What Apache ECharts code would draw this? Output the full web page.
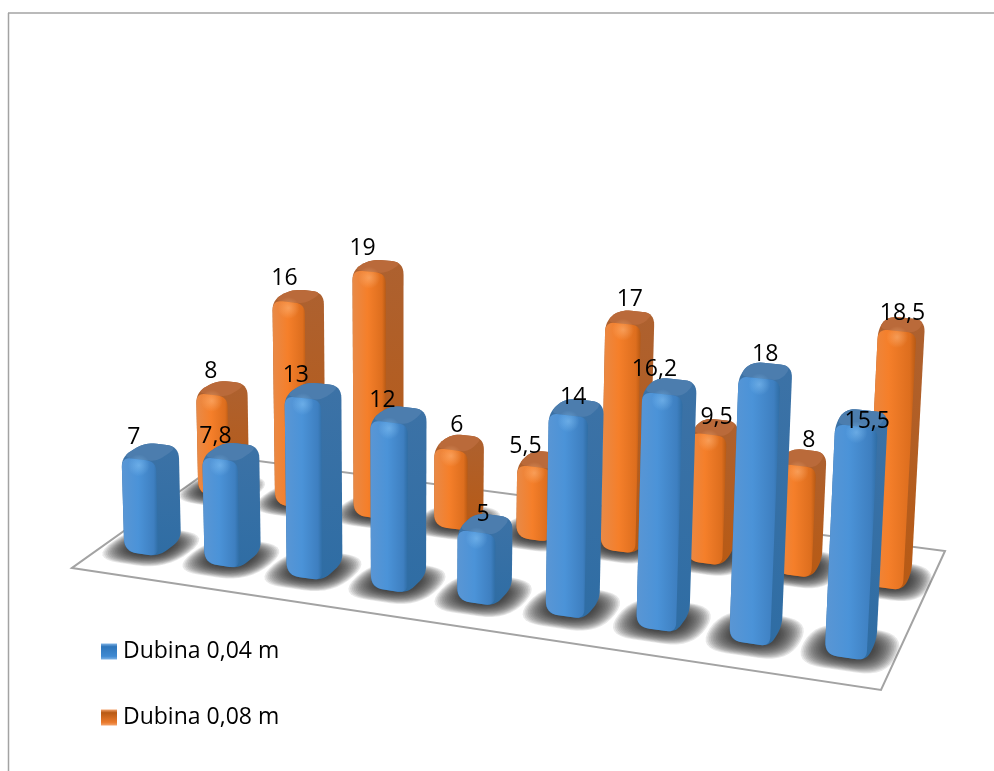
<!DOCTYPE html>
<html><head><meta charset="utf-8">
<style>html,body{margin:0;padding:0;background:#fff}#c{width:994px;height:771px}</style>
<script src="https://cdn.jsdelivr.net/npm/echarts@6/dist/echarts.min.js"></script>
</head><body><div id="c"></div>
<script>
const categories = ['1','2','3','4','5','6','7','8','9'];
const depth004 = [7, 7.8, 13, 12, 5, 14, 16.2, 18, 15.5];
const depth008 = [8, 16, 19, 6, 5.5, 17, 9.5, 8, 18.5];
const seriesNames = ['Dubina 0,04 m', 'Dubina 0,08 m'];

// hand-placed data-label offsets of the original, relative to each bar's top
const labelNudgeX = [[-13,-13,-16,-16,-3,-5,-18,-4,1],[-6,-10,-13,-1,-16,-1,0,3,-3]];
const labelNudgeY = [[4,4,3,4,11,8,1,2,22],[0,-1,-2,1,5,-1,9,1,6]];

// floor plane used as a perspective transform of the hidden cartesian grid
const Q = [[72,568],[881,690],[945,551],[228,457]];
const W = 994, GH = 300, YMAX = 20;
const H = (function(){
  const [p0,p1,p2,p3]=Q;
  const dx1=p1[0]-p2[0],dx2=p3[0]-p2[0],sx=p0[0]-p1[0]+p2[0]-p3[0];
  const dy1=p1[1]-p2[1],dy2=p3[1]-p2[1],sy=p0[1]-p1[1]+p2[1]-p3[1];
  const den=dx1*dy2-dx2*dy1;
  const g=(sx*dy2-dx2*sy)/den,h=(dx1*sy-sx*dy1)/den;
  return {a:p1[0]-p0[0]+g*p1[0],b:p3[0]-p0[0]+h*p3[0],c:p0[0],d:p1[1]-p0[1]+g*p1[1],e:p3[1]-p0[1]+h*p3[1],f:p0[1],g,h};
})();
const HEIGHT_K = 0.915, LEAN_X = 400, LEAN_C = 1.05e-4;
function proj(u,v,lift){
  const w=H.g*u+H.h*v+1;
  let x=(H.a*u+H.b*v+H.c)/w, y=(H.d*u+H.e*v+H.f)/w;
  const s=lift*HEIGHT_K/w;
  x+=(x-LEAN_X)*LEAN_C*s;
  y-=s;
  return [x,y];
}
function rounded(pts,r){
  const out=[],n=pts.length;
  for(let i=0;i<n;i++){
    const a=pts[(i+n-1)%n],b=pts[i],c=pts[(i+1)%n];
    const rr=Array.isArray(r)?r[i]:r;
    const la=Math.hypot(a[0]-b[0],a[1]-b[1]),lc=Math.hypot(c[0]-b[0],c[1]-b[1]);
    const ra=Math.min(rr,la/2),rc=Math.min(rr,lc/2);
    const s=[b[0]+(a[0]-b[0])*ra/la,b[1]+(a[1]-b[1])*ra/la];
    const e=[b[0]+(c[0]-b[0])*rc/lc,b[1]+(c[1]-b[1])*rc/lc];
    for(let k=0;k<=8;k++){
      const t=k/8,m=1-t;
      out.push([m*m*s[0]+2*m*t*b[0]+t*t*e[0],m*m*s[1]+2*m*t*b[1]+t*t*e[1]]);
    }
  }
  return out;
}
const DV=0.07;
const ROW=[{v:0.233,scale:1.0,shift:0.002,du:0.0238},{v:0.733,scale:1.012,shift:0.0,du:0.0228}];
const PAL=[
 {edgeL:'#5a96d4',mid:'#4b93d8',edgeR:'#3e7fc0',hi:'rgba(140,200,248,.5)',side:'#3c72a6',sideB:'#2f6da4',top:'#4c7dae'},
 {edgeL:'#e88a48',mid:'#f57f2a',edgeR:'#dd6e1e',hi:'rgba(255,190,135,.5)',side:'#ad6130',sideB:'#b85a14',top:'#ba6a3a'}
];
function grad(a,b,c,s){return {type:'linear',x:0,y:0,x2:1,y2:0,colorStops:[{offset:0,color:a},{offset:.45,color:b},{offset:.88,color:c},{offset:1,color:s}]};}
function geom(api,row){
  const i=api.value(0),val=api.value(1);
  const p=api.coord([i,0]),q=api.coord([i,val]);
  const r=ROW[row],DU=r.du;
  const u=0.5+(p[0]/W-0.5)*r.scale+r.shift,v=r.v,lift=p[1]-q[1];
  return {i,u,v,lift,DU,
    fbl:proj(u-DU,v-DV,0),fbr:proj(u+DU,v-DV,0),bbr:proj(u+DU,v+DV,0),
    ftl:proj(u-DU,v-DV,lift),ftr:proj(u+DU,v-DV,lift),btr:proj(u+DU,v+DV,lift),btl:proj(u-DU,v+DV,lift)};
}
function barItem(row){
  return function(params,api){
    const g=geom(api,row),c=PAL[row];
    const sil=rounded([g.fbl,g.fbr,g.bbr,g.btr,g.btl,g.ftl],[12,10,9,12,12,10]);
    const top=rounded([g.ftl,g.ftr,g.btr,g.btl],[10,8,12,12]);
    const front=rounded([g.fbl,g.fbr,g.ftr,g.ftl],[13,10,10,10]);
    const hx=(g.ftl[0]+g.ftr[0])/2,hy=(g.ftl[1]+g.ftr[1])/2+6;
    return {type:'group',children:[
      {type:'polygon',shape:{points:sil},style:{fill:{type:'linear',x:0,y:0,x2:0,y2:1,colorStops:[{offset:0,color:c.side},{offset:1,color:c.sideB}]}}},
      {type:'polygon',shape:{points:top},style:{fill:c.top}},
      {type:'polygon',shape:{points:front},style:{fill:grad(c.edgeL,c.mid,c.edgeR,c.sideB)}},
      {type:'circle',shape:{cx:hx,cy:hy,r:11},style:{fill:{type:'radial',x:.5,y:.5,r:.5,colorStops:[{offset:0,color:c.hi},{offset:1,color:c.hi.replace(/[\d.]+\)$/,'0)')}]}}}
    ]};
  };
}
function shadowItem(row){
  return function(params,api){
    const g=geom(api,row),DU=g.DU;
    const layers=[];
    const N=18;
    for(let k=0;k<N;k++){
      const t=k/(N-1);
      const a=2.25-1.25*t,b=2.05-1.15*t;
      const vc=g.v-DV*0.12;
      const pts=rounded([proj(g.u-DU*a,vc-DV*b,0),proj(g.u+DU*a,vc-DV*b,0),proj(g.u+DU*a,vc+DV*b,0),proj(g.u-DU*a,vc+DV*b,0)],30);
      layers.push({type:'polygon',shape:{points:pts},style:{fill:'rgba(45,45,45,.11)'}});
    }
    return {type:'group',children:layers};
  };
}
function labelItem(row){
  return function(params,api){
    const g=geom(api,row),val=api.value(1);
    const x=(g.btl[0]+g.btr[0])/2-6-(1-g.u*1.6)*10+labelNudgeX[row][g.i];
    const y=g.btl[1]-9+labelNudgeY[row][g.i];
    return {type:'text',style:{text:String(val).replace('.',','),x,y,align:'center',verticalAlign:'middle',fill:'#000',font:'23px "Open Sans"'}};
  };
}
const pairs=a=>a.map((v,i)=>[i,v]);
const floor={type:'custom',silent:true,z:1,clip:false,data:[[0,0]],renderItem(){
  return {type:'polygon',shape:{points:[proj(0,0,0),proj(1,0,0),proj(1,1,0),proj(0,1,0)]},style:{fill:'#fff',stroke:'#a3a3a3',lineWidth:2}};
}};
const legendGrad=(l,m,d)=>({type:'linear',x:0,y:0,x2:0,y2:1,colorStops:[{offset:0,color:l},{offset:.2,color:m},{offset:.8,color:d},{offset:1,color:l}]});
const chart=echarts.init(document.getElementById('c'),null,{renderer:'canvas'});
chart.setOption({
  animation:false,backgroundColor:'#fff',
  grid:{left:0,width:W,top:100,height:GH,containLabel:false},
  xAxis:{type:'category',data:categories,show:false,boundaryGap:true},
  yAxis:{type:'value',min:0,max:YMAX,show:false},
  legend:{orient:'vertical',left:96,top:635,itemWidth:16,itemHeight:16,itemGap:43,icon:'rect',
    textStyle:{fontFamily:'Open Sans',fontSize:23,color:'#000',padding:[0,0,0,1]},
    data:[{name:seriesNames[0],itemStyle:{color:legendGrad('#7fb3e6','#2f76bb','#3f8ad2')}},
          {name:seriesNames[1],itemStyle:{color:legendGrad('#f3a36c','#b85a14','#ea7a2c')}}]},
  graphic:[
    {type:'line',z:100,shape:{x1:8,y1:13,x2:994,y2:13},style:{stroke:'#a3a3a3',lineWidth:1.5}},
    {type:'line',z:100,shape:{x1:8.5,y1:13,x2:8.5,y2:771},style:{stroke:'#a3a3a3',lineWidth:1.5}}
  ],
  series:[
    floor,
    {type:'custom',silent:true,z:2,clip:false,data:pairs(depth008),renderItem:shadowItem(1)},
    {type:'custom',silent:true,z:2,clip:false,data:pairs(depth004),renderItem:shadowItem(0)},
    {type:'custom',name:seriesNames[1],z:3,clip:false,data:pairs(depth008),renderItem:barItem(1),itemStyle:{color:'#f57f2a'}},
    {type:'custom',name:seriesNames[0],z:4,clip:false,data:pairs(depth004),renderItem:barItem(0),itemStyle:{color:'#4f97dc'}},
    {type:'custom',silent:true,z:5,clip:false,data:pairs(depth008),renderItem:labelItem(1)},
    {type:'custom',silent:true,z:5,clip:false,data:pairs(depth004),renderItem:labelItem(0)}
  ]
});
</script></body></html>
